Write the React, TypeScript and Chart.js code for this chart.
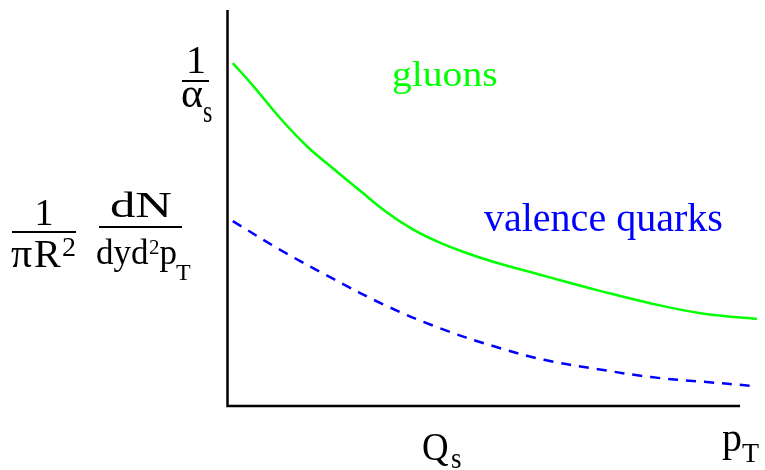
import React, { useEffect, useRef } from "react";
import { Chart, registerables } from "chart.js";

Chart.register(...registerables);

// ---- data (x in arbitrary p_T units, y in arbitrary yield units) ----
const gluonX = [0.1, 0.5, 1, 1.5, 2, 2.5, 3, 3.5, 4, 4.5, 5, 6, 7, 8, 9, 10];
const gluonY = [8.66, 8.06, 7.26, 6.56, 5.99, 5.44, 4.9, 4.46, 4.13, 3.87, 3.65, 3.28, 2.92, 2.59, 2.33, 2.2];
const quarkX = [0.1, 1, 2, 3, 4, 5, 6, 7, 8, 9, 9.9];
const quarkY = [4.67, 3.94, 3.21, 2.53, 1.97, 1.52, 1.16, 0.93, 0.73, 0.61, 0.51];

const xMin = 0;
const xMax = 10;
const xAxisEnd = 9.68;
const yMin = 0;
const yMax = 10;

const seriesNames = ["gluons", "valence quarks"];
const seriesColors = ["#00ff00", "#0000ff"];

const FONT = "'Liberation Serif', 'Times New Roman', serif";

function txt(
  ctx: CanvasRenderingContext2D,
  t: string,
  x: number,
  y: number,
  size: number,
  sx = 1,
  color = "#000",
  center = false
): number {
  ctx.save();
  ctx.font = `${size}px ${FONT}`;
  const w = ctx.measureText(t).width * sx;
  const x0 = center ? x - w / 2 : x;
  ctx.translate(x0, y);
  ctx.scale(sx, 1);
  ctx.fillStyle = color;
  ctx.textBaseline = "alphabetic";
  ctx.textAlign = "left";
  ctx.fillText(t, 0, 0);
  ctx.restore();
  return x0 + w;
}

function hline(ctx: CanvasRenderingContext2D, x1: number, x2: number, y: number, w: number) {
  ctx.save();
  ctx.strokeStyle = "#000";
  ctx.lineWidth = w;
  ctx.beginPath();
  ctx.moveTo(x1, y);
  ctx.lineTo(x2, y);
  ctx.stroke();
  ctx.restore();
}

const decorPlugin = {
  id: "decor",
  afterDraw(chart: any) {
    const ctx: CanvasRenderingContext2D = chart.ctx;
    const { left, top, bottom } = chart.chartArea;
    const xs = chart.scales.x;
    // axes
    ctx.save();
    ctx.strokeStyle = "#000";
    ctx.lineWidth = 2.5;
    ctx.beginPath();
    ctx.moveTo(left, top);
    ctx.lineTo(left, bottom);
    ctx.lineTo(xs.getPixelForValue(xAxisEnd), bottom);
    ctx.stroke();
    ctx.restore();

    // series labels
    txt(ctx, seriesNames[0], 392, 86, 36, 1.1, seriesColors[0]);
    txt(ctx, seriesNames[1], 484, 231, 40, 1.0, seriesColors[1]);

    // 1/alpha_s
    txt(ctx, "1", 196, 73, 40, 1, "#000", true);
    hline(ctx, 182, 209, 81, 2);
    txt(ctx, "α", 181, 107, 42, 1);
    txt(ctx, "s", 203, 122, 32, 0.75);

    // y label: 1/(pi R^2)
    txt(ctx, "1", 44, 225, 38, 1, "#000", true);
    hline(ctx, 12, 76, 232, 2);
    txt(ctx, "π", 11, 267, 40, 1.05);
    txt(ctx, "R", 34, 267, 40, 1.0);
    txt(ctx, "2", 62, 256, 28, 1.0);

    // dN / (dy d^2 p_T)
    txt(ctx, "dN", 141, 217, 35, 1.45, "#000", true);
    hline(ctx, 99, 182, 227, 2);
    let cx = txt(ctx, "dyd", 96, 264, 35, 1.0);
    cx = txt(ctx, "2", cx + 0.5, 254, 21, 1.0);
    cx = txt(ctx, "p", cx, 264, 35, 1.0);
    txt(ctx, "T", cx - 1, 280, 24, 1.0);

    // x tick-like labels
    txt(ctx, "Q", 422, 460, 40, 0.92);
    txt(ctx, "s", 451, 468, 30, 0.9);
    txt(ctx, "p", 722, 451, 40, 1);
    txt(ctx, "T", 742, 462, 28, 1);
  },
};

export default function App() {
  const ref = useRef<HTMLCanvasElement>(null);
  useEffect(() => {
    if (!ref.current) return;
    const chart = new Chart(ref.current, {
      type: "line",
      data: {
        datasets: [
          {
            label: seriesNames[0],
            data: gluonX.map((x, i) => ({ x, y: gluonY[i] })),
            borderColor: seriesColors[0],
            borderWidth: 2.5,
            pointRadius: 0,
            tension: 0.4,
            fill: false,
            clip: false as any,
          },
          {
            label: seriesNames[1],
            data: quarkX.map((x, i) => ({ x, y: quarkY[i] })),
            borderColor: seriesColors[1],
            borderWidth: 2.5,
            borderDash: [10, 8],
            pointRadius: 0,
            tension: 0.4,
            fill: false,
            clip: false as any,
          },
        ],
      },
      options: {
        animation: false,
        responsive: false,
        events: [],
        layout: { padding: { left: 227.5, right: 8, top: 10, bottom: 64 } },
        plugins: { legend: { display: false }, tooltip: { enabled: false } },
        scales: {
          x: { type: "linear", min: xMin, max: xMax, display: false },
          y: { type: "linear", min: yMin, max: yMax, display: false },
        },
      },
      plugins: [decorPlugin],
    });
    return () => chart.destroy();
  }, []);
  return (
    <div style={{ position: "absolute", left: 0, top: 0, width: 765, height: 470, background: "#fff" }}>
      <canvas ref={ref} width={765} height={470} style={{ display: "block" }} />
    </div>
  );
}
